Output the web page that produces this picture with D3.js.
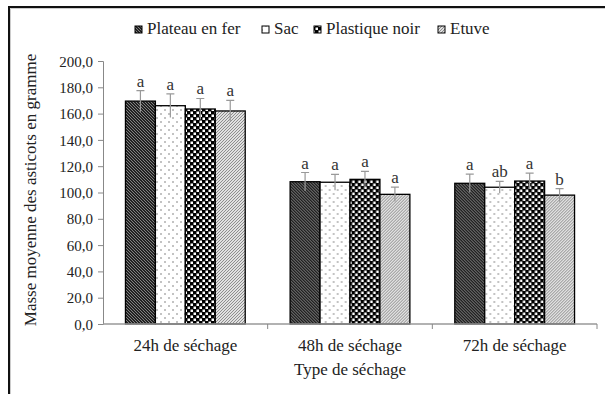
<!DOCTYPE html>
<html><head><meta charset="utf-8">
<script src="https://cdn.jsdelivr.net/npm/d3@7/dist/d3.min.js"></script>
<style>body{margin:0;background:#fff}svg{display:block}</style>
</head><body><svg id="c" width="605" height="394"></svg>
<script>
const categories = ["24h de séchage", "48h de séchage", "72h de séchage"];
const series = ["Plateau en fer", "Sac", "Plastique noir", "Etuve"];
const values = {
  "Plateau en fer": [169.5, 108.2, 107.0],
  "Sac": [166.0, 107.8, 104.0],
  "Plastique noir": [163.5, 110.0, 108.7],
  "Etuve": [162.0, 98.6, 98.0]
};
const errors = {
  "Plateau en fer": [8, 7, 7],
  "Sac": [9, 6, 4.5],
  "Plastique noir": [8, 6, 6],
  "Etuve": [8, 5.5, 5]
};
const letters = {
  "Plateau en fer": ["a", "a", "a"],
  "Sac": ["a", "a", "ab"],
  "Plastique noir": ["a", "a", "a"],
  "Etuve": ["a", "a", "b"]
};
const yTicks = [0, 20, 40, 60, 80, 100, 120, 140, 160, 180, 200];

const FONT = "'Liberation Serif', 'Times New Roman', serif";
const svg = d3.select("#c");
const defs = svg.append("defs");
const ser = ["p0","p1","p2","p3"];
let p = defs.append("pattern").attr("id","p0").attr("patternUnits","userSpaceOnUse").attr("width",3).attr("height",3);
p.append("rect").attr("width",3).attr("height",3).attr("fill","#222");
p.append("path").attr("d","M0,0L3,3M-1,2L1,4M2,-1L4,1").attr("stroke","#aaa").attr("stroke-width",0.7);
p = defs.append("pattern").attr("id","p1").attr("patternUnits","userSpaceOnUse").attr("width",8).attr("height",8);
p.append("rect").attr("width",8).attr("height",8).attr("fill","#fff");
p.append("circle").attr("cx",2).attr("cy",2).attr("r",0.8).attr("fill","#777");
p.append("circle").attr("cx",6).attr("cy",6).attr("r",0.8).attr("fill","#777");
p = defs.append("pattern").attr("id","p2").attr("patternUnits","userSpaceOnUse").attr("width",6).attr("height",6);
p.append("rect").attr("width",6).attr("height",6).attr("fill","#000");
p.append("rect").attr("x",0.5).attr("y",0.5).attr("width",2.5).attr("height",2.5).attr("fill","#fff");
p.append("rect").attr("x",3.5).attr("y",3.5).attr("width",2.5).attr("height",2.5).attr("fill","#fff");
p = defs.append("pattern").attr("id","p3").attr("patternUnits","userSpaceOnUse").attr("width",3).attr("height",3);
p.append("rect").attr("width",3).attr("height",3).attr("fill","#e0e0e0");
p.append("path").attr("d","M0,3L3,0M-1,1L1,-1M2,4L4,2").attr("stroke","#777").attr("stroke-width",0.8);

svg.append("path").attr("d","M9,394V7H605").attr("fill","none").attr("stroke","#111").attr("stroke-width",2);
svg.append("path").attr("d","M10.5,394V8.5H605").attr("fill","none").attr("stroke","#ccc").attr("stroke-width",1);

const x0 = d3.scaleBand().domain(categories).range([103, 597]).paddingInner(0).paddingOuter(0);
const x1 = d3.scaleBand().domain(series).range([0, x0.bandwidth()]).paddingInner(0).paddingOuter(0.75);
const y = d3.scaleLinear().domain([0, 200]).range([324, 61]);

const yAxis = svg.append("g").attr("transform","translate(103,0)")
  .call(d3.axisLeft(y).tickValues(yTicks).tickSize(5).tickFormat(d => d3.format(".1f")(d).replace(".", ",")));
yAxis.attr("font-family", FONT);
yAxis.select(".domain").attr("stroke","#888");
yAxis.selectAll(".tick line").attr("stroke","#888");
yAxis.selectAll(".tick text").style("font-family", FONT).attr("font-size",15).attr("fill","#222").attr("x",-10).attr("dy","0.34em");

const groups = svg.append("g").selectAll("g").data(categories).join("g")
  .attr("transform", d => `translate(${x0(d)},0)`);
series.forEach((s, si) => {
  groups.append("rect")
    .attr("x", x1(s)).attr("width", x1.bandwidth())
    .attr("y", (d, i) => y(values[s][i])).attr("height", (d, i) => y(0) - y(values[s][i]))
    .attr("fill", `url(#${ser[si]})`).attr("stroke", "#000").attr("stroke-width", 1.3);
});
series.forEach((s, si) => {
  const cx = x1(s) + x1.bandwidth() / 2;
  groups.append("path")
    .attr("d", (d, i) => {
      const t = y(values[s][i] + errors[s][i]), b = y(values[s][i] - errors[s][i]);
      return `M${cx},${b}V${t}M${cx-4},${t}H${cx+4}`;
    })
    .attr("stroke", "#999").attr("stroke-width", 1.2).attr("fill", "none");
  groups.append("text")
    .attr("x", cx).attr("y", (d, i) => y(values[s][i] + errors[s][i]) - 4)
    .attr("text-anchor", "middle").style("font-family", FONT).attr("font-size", 17).attr("fill", "#333")
    .text((d, i) => letters[s][i]);
});

const xa = svg.append("g");
xa.append("line").attr("x1",103).attr("x2",597).attr("y1",y(0)).attr("y2",y(0)).attr("stroke","#999").attr("stroke-width",1.5);
xa.selectAll(".xt").data(categories).join("line")
  .attr("x1", d => x0(d) + x0.bandwidth()).attr("x2", d => x0(d) + x0.bandwidth())
  .attr("y1", y(0)).attr("y2", y(0) + 5).attr("stroke","#888");
xa.selectAll(".xl").data(categories).join("text")
  .attr("x", d => x0(d) + x0.bandwidth() / 2).attr("y", 351)
  .attr("text-anchor","middle").style("font-family", FONT).attr("font-size",17).attr("fill","#222").text(d => d);
svg.append("text").attr("x", x0("48h de séchage") + x0.bandwidth()/2).attr("y", 375)
  .attr("text-anchor","middle").style("font-family", FONT).attr("font-size",17).attr("fill","#222").text("Type de séchage");
svg.append("text").attr("transform","translate(36,190) rotate(-90)")
  .attr("text-anchor","middle").style("font-family", FONT).attr("font-size",17).attr("fill","#222").text("Masse moyenne des asticots en gramme");

const legX = [135, 262, 314, 438];
const leg = svg.append("g");
series.forEach((s, si) => {
  leg.append("rect").attr("x", legX[si]).attr("y", 26).attr("width", 7).attr("height", 7)
    .attr("fill", `url(#${ser[si]})`).attr("stroke", "#000").attr("stroke-width", 1);
  leg.append("text").attr("x", legX[si] + 12).attr("y", 34).style("font-family", FONT).attr("font-size", 17).attr("fill","#222").text(s);
});
</script></body></html>
